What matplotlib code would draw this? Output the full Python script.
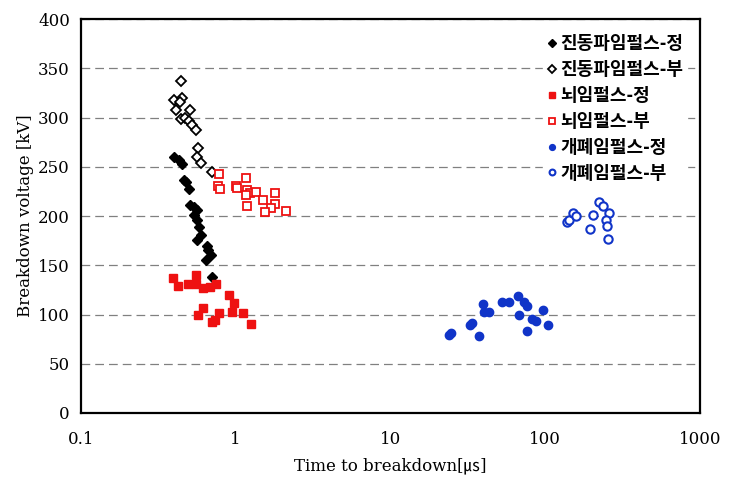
import matplotlib
matplotlib.use("Agg")
import matplotlib.pyplot as plt
from matplotlib.ticker import FixedLocator, NullLocator

# 진동파임펄스-정 (filled diamonds)
osc_pos_t = [0.40, 0.43, 0.45, 0.46, 0.48, 0.50, 0.51, 0.54, 0.56, 0.54, 0.56, 0.58, 0.60, 0.56, 0.65, 0.66, 0.69, 0.64, 0.70]
osc_pos_v = [260, 257, 253, 237, 235, 227, 211, 209, 206, 201, 196, 189, 181, 176, 170, 165, 160, 155, 138]
# 진동파임펄스-부 (open diamonds)
osc_neg_t = [0.44, 0.40, 0.45, 0.435, 0.41, 0.51, 0.44, 0.47, 0.50, 0.525, 0.55, 0.57, 0.56, 0.60, 0.70]
osc_neg_v = [337, 318, 320, 316, 308, 308, 299, 300, 296, 292, 287, 269, 260, 254, 245]
# 뇌임펄스-정 (filled squares)
li_pos_t = [0.394, 0.424, 0.488, 0.55, 0.556, 0.61, 0.68, 0.75, 0.90, 0.97, 0.94, 1.11, 0.61, 0.57, 0.78, 0.73, 0.70, 1.25]
li_pos_v = [137, 129, 131, 140, 131, 127, 128, 131, 120, 112, 103, 102, 107, 99, 102, 94, 92, 90]
# 뇌임펄스-부 (open squares)
li_neg_t = [0.78, 0.77, 0.79, 1.00, 1.02, 1.16, 1.19, 1.23, 1.36, 1.17, 1.50, 1.19, 1.80, 1.79, 1.70, 1.54, 2.10]
li_neg_v = [243, 230, 227, 230, 228, 239, 226, 223, 224, 221, 216, 210, 223, 212, 208, 204, 205]
# 개폐임펄스-정 (filled circles)
sw_pos_t = [23.8, 24.7, 32.5, 33.4, 37.2, 39.4, 40.3, 43.5, 52.2, 58.1, 66.4, 73.2, 75.8, 67.4, 82.0, 87.0, 97.0, 76.3, 104.0]
sw_pos_v = [79, 81, 89, 91, 78, 111, 103, 103, 113, 113, 119, 113, 109, 99, 95, 93, 105, 83, 89]
# 개폐임펄스-부 (open circles)
sw_neg_t = [139, 141.5, 150, 158, 195, 203, 224, 236, 259, 246, 250, 254]
sw_neg_v = [194, 196, 203, 200, 187, 201, 214, 210, 203, 196, 190, 177]

labels = ["진동파임펄스-정", "진동파임펄스-부", "뇌임펄스-정", "뇌임펄스-부", "개폐임펄스-정", "개폐임펄스-부"]
x_ticks = [0.1, 1, 10, 100, 1000]
x_tick_labels = ["0.1", "1", "10", "100", "1000"]
y_ticks = [0, 50, 100, 150, 200, 250, 300, 350, 400]

red = "#EE1111"
blue = "#1034C8"
serif = ["DejaVu Serif", "Noto Sans CJK KR"]

fig = plt.figure(figsize=(7.31, 4.88), dpi=100)
ax = fig.add_axes([0.1108, 0.1537, 0.8468, 0.8073])

ms = 6
ax.plot(osc_pos_t, osc_pos_v, linestyle="none", marker="D", ms=5.2, color="black", label=labels[0])
ax.plot(osc_neg_t, osc_neg_v, linestyle="none", marker="D", ms=5.2, mfc="white", mec="black", mew=1.3, label=labels[1])
ax.plot(li_pos_t, li_pos_v, linestyle="none", marker="s", ms=ms, color=red, label=labels[2])
ax.plot(li_neg_t, li_neg_v, linestyle="none", marker="s", ms=ms, mfc="white", mec=red, mew=1.3, label=labels[3])
ax.plot(sw_pos_t, sw_pos_v, linestyle="none", marker="o", ms=ms, color=blue, label=labels[4])
ax.plot(sw_neg_t, sw_neg_v, linestyle="none", marker="o", ms=ms, mfc="white", mec=blue, mew=1.5, label=labels[5])

ax.set_xscale("log")
ax.set_xlim(0.1, 1000)
ax.set_ylim(0, 400)
ax.xaxis.set_major_locator(FixedLocator(x_ticks))
ax.xaxis.set_minor_locator(NullLocator())
ax.set_xticklabels(x_tick_labels)
ax.set_yticks(y_ticks)
ax.tick_params(axis="y", length=0, labelsize=12, pad=8)
ax.tick_params(axis="x", length=0, labelsize=12, pad=13)
for lbl in ax.get_xticklabels() + ax.get_yticklabels():
    lbl.set_family(serif)

ax.yaxis.grid(True, linestyle=(0, (7, 4)), color="#808080", linewidth=0.9)
ax.set_axisbelow(True)
for s in ax.spines.values():
    s.set_linewidth(1.6)
    s.set_color("black")

ax.set_xlabel("Time to breakdown[㎲]", fontsize=12, family=serif, labelpad=7)
ax.set_ylabel("Breakdown voltage [kV]", fontsize=12, family=serif, labelpad=3)

leg = ax.legend(loc="upper right", bbox_to_anchor=(0.994, 0.993), frameon=True, fancybox=False,
                edgecolor="white", framealpha=1.0, handlelength=0.5, handletextpad=0.25,
                labelspacing=0.38, markerscale=0.7,
                prop={"family": "Noto Sans CJK KR", "size": 13, "weight": "bold"},
                borderpad=0.2)

fig.savefig("out.png", dpi=100)
